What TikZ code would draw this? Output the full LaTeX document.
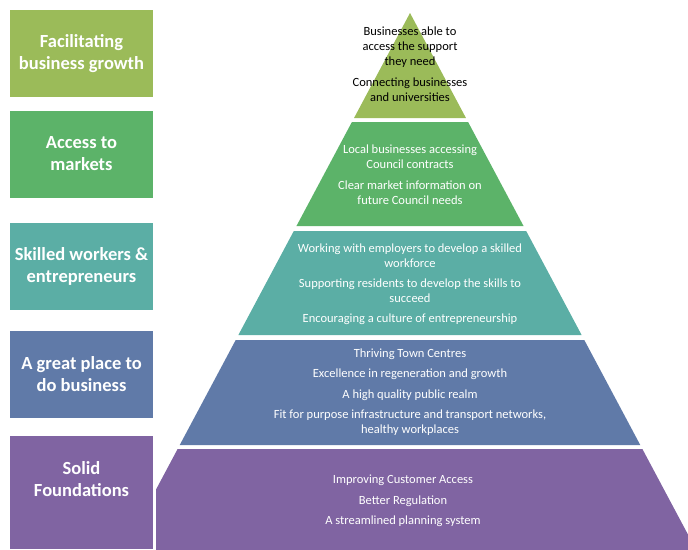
\documentclass[tikz,border=0pt]{standalone}
\usepackage{fontspec}
\setmainfont{Carlito}
\definecolor{lvlA}{RGB}{155,187,89}
\definecolor{lvlB}{RGB}{92,179,105}
\definecolor{lvlC}{RGB}{91,174,165}
\definecolor{lvlD}{RGB}{96,122,168}
\definecolor{lvlE}{RGB}{128,100,162}
\begin{document}
\begin{tikzpicture}[x=1pt,y=-1pt,line join=round,
  box/.style={minimum width=143pt,minimum height=87pt,inner sep=0pt,text=white,align=center,font=\bfseries\fontsize{18.5}{22}\selectfont},
  item/.style={text=white,align=center,inner sep=0pt,font=\fontsize{12.5}{15}\selectfont}]
\def\ax{410} \def\ay{13} \def\sl{0.533} % apex and slope
\useasboundingbox (0,0) rectangle (688,549);
% left labels
\node[box,fill=lvlA] (growth) at (81.5,53.5) {Facilitating\\business growth};
\node[box,fill=lvlB] (markets) at (81.5,154) {Access to\\markets};
\node[box,fill=lvlC] (skills) at (81.5,266.5) {Skilled workers \&\\entrepreneurs};
\node[box,fill=lvlD] (place) at (81.5,374) {A great place to\\do business};
\node[box,fill=lvlE,minimum height=113pt,
  label={[box,minimum height=0pt,fill=none,yshift=13.5pt]center:{Solid\\Foundations}}] (found) at (81.5,492.5) {};
% pyramid
\begin{scope}
\clip (156,0) rectangle (688,549);
\foreach \t/\b/\c in {13/118/lvlA,122/226/lvlB,231/335/lvlC,340/445/lvlD,449/560/lvlE}
  \fill[\c] ({\ax-\sl*(\t-\ay)},\t) -- ({\ax+\sl*(\t-\ay)},\t)
    -- ({\ax+\sl*(\b-\ay)},\b) -- ({\ax-\sl*(\b-\ay)},\b) -- cycle;
\end{scope}
% layer texts
\node[item,text=black] (support) at (410,47) {Businesses able to\\access the support\\they need};
\node[item,text=black] (univ) at (410,89.5) {Connecting businesses\\and universities};
\node[item] (contracts) at (410,156.5) {Local businesses accessing\\Council contracts};
\node[item] (needs) at (410,192.5) {Clear market information on\\future Council needs};
\node[item] (employers) at (410,255.5) {Working with employers to develop a skilled\\workforce};
\node[item] (residents) at (410,290.5) {Supporting residents to develop the skills to\\succeed};
\node[item] (culture) at (410,319) {Encouraging a culture of entrepreneurship};
\node[item] (centres) at (410,354) {Thriving Town Centres};
\node[item] (regen) at (410,374) {Excellence in regeneration and growth};
\node[item] (realm) at (410,395) {A high quality public realm};
\node[item] (infra) at (410,422.5) {Fit for purpose infrastructure and transport networks,\\healthy workplaces};
\node[item] (customer) at (403,480) {Improving Customer Access};
\node[item] (regulation) at (403,501) {Better Regulation};
\node[item] (planning) at (403,521) {A streamlined planning system};
\end{tikzpicture}
\end{document}
